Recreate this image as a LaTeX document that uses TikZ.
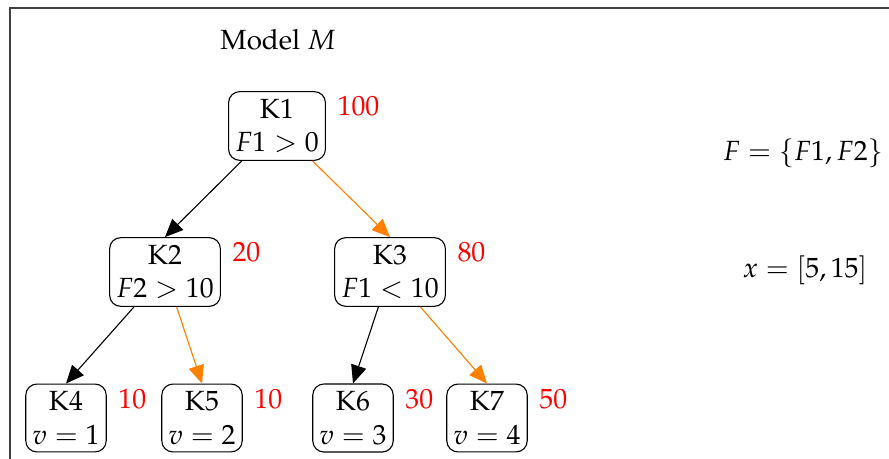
\documentclass[tikz,border=0pt]{standalone}
\usepackage[T1]{fontenc}
\usepackage{mathpazo}
\usetikzlibrary{arrows.meta}

\begin{document}
\begin{tikzpicture}[
      x=0.36pt, y=-0.36pt,
      box/.style={draw, rounded corners=4pt, align=center, inner xsep=2.4pt, inner ysep=2.7pt},
      cnt/.style={text=red, anchor=north west, inner sep=0pt, xshift=4pt, yshift=-1.8pt},
      arr/.style={-{Triangle[length=6.5pt, width=5.6pt]}, line width=0.4pt},
      hot/.style={draw=orange, fill=orange}
    ]
      \useasboundingbox (0,0) rectangle (889,459);
      \draw[line width=0.6pt, black!75] (10,459) |- (889,8);
      \node (title) at (278,40) {Model $M$};
      % tree
      \node[box, label={[cnt]north east:100}] (k1) at (277,126) {K1\\$F1 > 0$};
      \node[box, label={[cnt]north east:20}]  (k2) at (165,272) {K2\\$F2 > 10$};
      \node[box, label={[cnt]north east:80}]  (k3) at (390,272) {K3\\$F1 < 10$};
      \node[box, label={[cnt]north east:10}]  (k4) at (66,418)  {K4\\$v = 1$};
      \node[box, label={[cnt]north east:10}]  (k5) at (202,418) {K5\\$v = 2$};
      \node[box, label={[cnt]north east:30}]  (k6) at (353,418) {K6\\$v = 3$};
      \node[box, label={[cnt]north east:50}]  (k7) at (487,418) {K7\\$v = 4$};
      \draw[arr] (k1) -- (k2.north);
      \draw[arr, hot] (k1) -- (k3.north);
      \draw[arr] (k2) -- (k4.north);
      \draw[arr, hot] (k2) -- (k5.north);
      \draw[arr] (k3) -- (k6.north);
      \draw[arr, hot] (k3) -- (k7.north);
      % inputs
      \node (feat) at (803,153) {$F = \{F1, F2\}$};
      \node (inst) at (805,270) {$x = [5, 15]$};
    \end{tikzpicture}
\end{document}
